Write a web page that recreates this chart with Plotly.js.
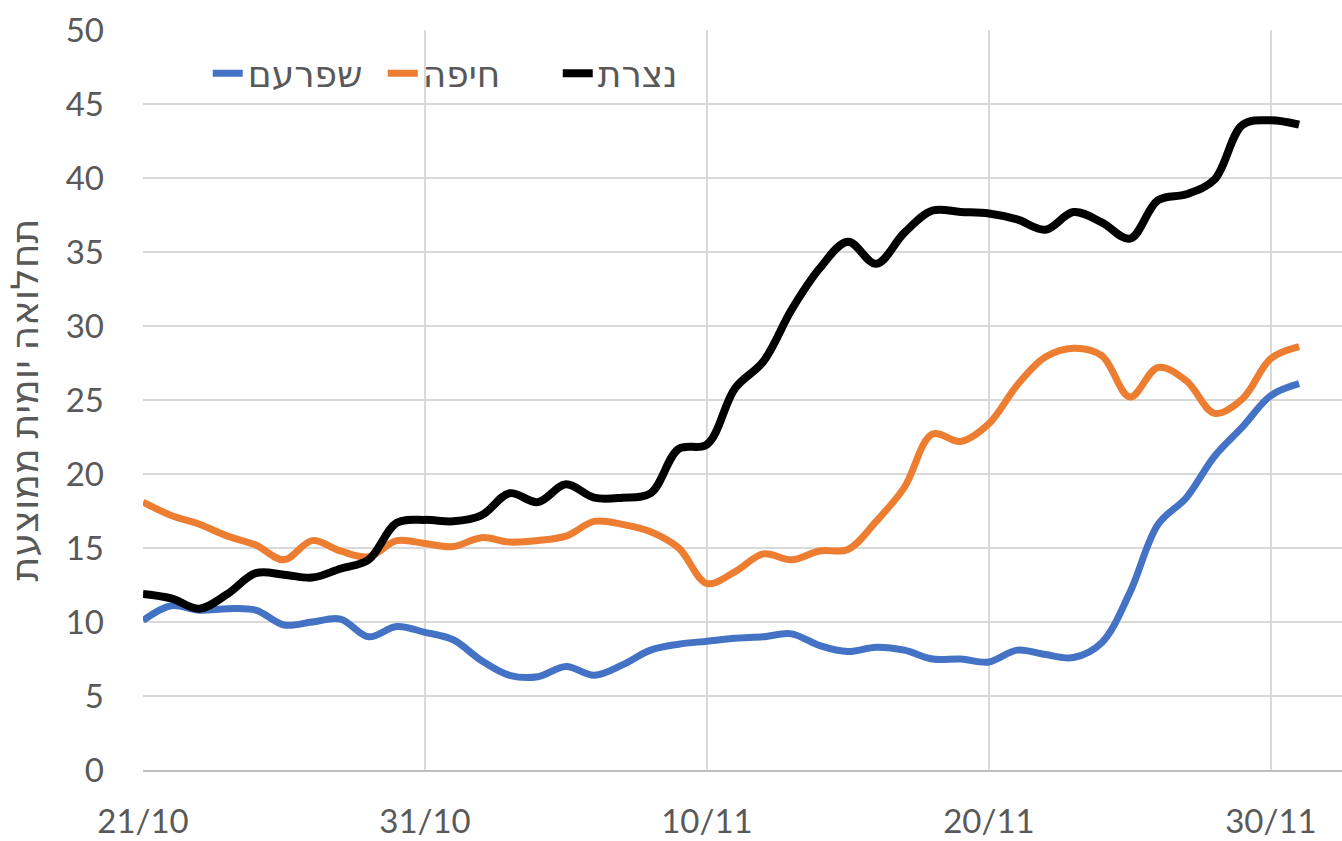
<!DOCTYPE html>
<html>
<head>
<meta charset="utf-8">
<script src="https://cdn.plot.ly/plotly-3.0.1.min.js"></script>
<style>
  html, body { margin: 0; padding: 0; background: #fff; }
  #chart { width: 1342px; height: 841px; }
</style>
</head>
<body>
<div id="chart"></div>
<script>
const dates = [
  '2020-10-21','2020-10-22','2020-10-23','2020-10-24','2020-10-25','2020-10-26','2020-10-27',
  '2020-10-28','2020-10-29','2020-10-30','2020-10-31','2020-11-01','2020-11-02','2020-11-03',
  '2020-11-04','2020-11-05','2020-11-06','2020-11-07','2020-11-08','2020-11-09','2020-11-10',
  '2020-11-11','2020-11-12','2020-11-13','2020-11-14','2020-11-15','2020-11-16','2020-11-17',
  '2020-11-18','2020-11-19','2020-11-20','2020-11-21','2020-11-22','2020-11-23','2020-11-24',
  '2020-11-25','2020-11-26','2020-11-27','2020-11-28','2020-11-29','2020-11-30','2020-12-01'
];

const shefaram = [10.1, 11.1, 10.8, 10.9, 10.8, 9.8, 10.0, 10.2, 9.0, 9.7, 9.3,
  8.8, 7.4, 6.4, 6.3, 7.0, 6.4, 7.1, 8.1, 8.5, 8.7,
  8.9, 9.0, 9.2, 8.4, 8.0, 8.3, 8.1, 7.5, 7.5, 7.3,
  8.1, 7.8, 7.6, 8.6, 12.0, 16.6, 18.4, 21.2, 23.2, 25.3, 26.1];

const haifa = [18.1, 17.2, 16.6, 15.8, 15.2, 14.2, 15.5, 14.8, 14.4, 15.5, 15.3,
  15.1, 15.7, 15.4, 15.5, 15.8, 16.8, 16.6, 16.1, 15.0, 12.6,
  13.4, 14.6, 14.2, 14.8, 14.9, 16.8, 19.1, 22.7, 22.2, 23.4,
  26.0, 27.9, 28.5, 28.0, 25.2, 27.2, 26.3, 24.1, 25.1, 27.8, 28.6];

const nazareth = [11.9, 11.6, 10.9, 11.9, 13.3, 13.2, 13.0, 13.6, 14.2, 16.7, 16.9,
  16.8, 17.2, 18.7, 18.1, 19.3, 18.4, 18.4, 18.7, 21.7, 22.0,
  25.8, 27.6, 31.1, 33.9, 35.7, 34.2, 36.3, 37.8, 37.7, 37.6,
  37.2, 36.5, 37.7, 37.0, 35.9, 38.5, 38.9, 39.9, 43.6, 43.9, 43.6];

const seriesNames = ['שפרעם', 'חיפה', 'נצרת'];
const tickDates = ['2020-10-21', '2020-10-31', '2020-11-10', '2020-11-20', '2020-11-30'];
const tickLabels = ['21/10', '31/10', '10/11', '20/11', '30/11'];
const yTitle = 'תחלואה יומית ממוצעת';

const FONT = "Lato, 'Noto Sans', 'DejaVu Sans', sans-serif";

function mk(name, y, color, width) {
  return {
    x: dates, y: y, name: name, type: 'scatter', mode: 'lines',
    line: { color: color, width: width, shape: 'spline', smoothing: 1 },
    hoverinfo: 'skip'
  };
}

const data = [
  mk(seriesNames[0], shefaram, '#4472C4', 7),
  mk(seriesNames[1], haifa, '#ED7D31', 7),
  mk(seriesNames[2], nazareth, '#000000', 8)
];

const layout = {
  width: 1342, height: 841,
  margin: { l: 143, r: 0, t: 30, b: 71 },
  paper_bgcolor: '#ffffff', plot_bgcolor: '#ffffff',
  font: { family: FONT, color: '#595959', size: 33 },
  showlegend: true,
  legend: {
    orientation: 'h', x: 0.054, y: 0.982, xanchor: 'left', yanchor: 'top',
    font: { family: FONT, size: 36, color: '#595959' },
    bgcolor: 'rgba(255,255,255,0)', itemwidth: 30,
    entrywidth: 130, entrywidthmode: 'pixels'
  },
  xaxis: {
    type: 'date',
    range: ['2020-10-21', '2020-12-02 12:30'],
    tickvals: tickDates, ticktext: tickLabels,
    showgrid: true, gridcolor: '#D9D9D9', gridwidth: 1.5,
    showline: true, linecolor: '#BFBFBF', linewidth: 1.5,
    ticks: '', ticklabelstandoff: 22,
    tickfont: { family: FONT, size: 33, color: '#595959' },
    zeroline: false, fixedrange: true
  },
  yaxis: {
    range: [0, 50], tickvals: [0, 5, 10, 15, 20, 25, 30, 35, 40, 45, 50],
    showgrid: true, gridcolor: '#D9D9D9', gridwidth: 1.5,
    showline: false, zeroline: false, ticks: '', ticklabelstandoff: 38,
    tickfont: { family: FONT, size: 33, color: '#595959' },
    title: { text: yTitle, font: { family: FONT, size: 38, color: '#595959' }, standoff: 22 },
    fixedrange: true
  }
};

Plotly.newPlot('chart', data, layout, { displayModeBar: false, staticPlot: true });
</script>
</body>
</html>
